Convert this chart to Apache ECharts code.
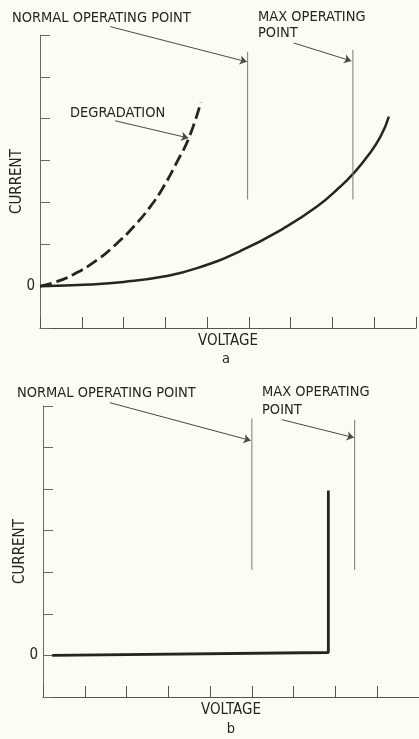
<!DOCTYPE html>
<html>
<head>
<meta charset="utf-8">
<script src="https://cdn.jsdelivr.net/npm/echarts@6/dist/echarts.min.js"></script>
<style>
  html, body { margin: 0; padding: 0; background: #fcfcf3; }
  #chart { width: 419px; height: 739px; }
</style>
</head>
<body>
<div id="chart"></div>
<script>
// chart a : normal curve and degraded curve
var voltA = [0, 1.2, 2.0, 2.96, 3.76, 4.80, 5.83, 6.63, 7.19, 7.51, 7.83, 8.15, 8.35];
var currentA = [0, 0.04, 0.10, 0.23, 0.43, 0.84, 1.38, 1.90, 2.38, 2.70, 3.09, 3.57, 4.05];
var voltDeg = [0, 0.32, 0.80, 1.36, 1.84, 2.24, 2.64, 2.96, 3.28, 3.56, 3.85];
var currentDeg = [0, 0.08, 0.28, 0.62, 1.02, 1.42, 1.90, 2.38, 2.97, 3.53, 4.39];

// chart b : flat then vertical
var voltB = [0.22, 6.83, 6.83];
var currentB = [0, 0.07, 3.97];

// operating point markers [voltage, from current, to current]
var normalA = [4.97, 2.07, 5.6];
var maxA = [7.49, 2.07, 5.65];
var normalB = [5.0, 2.06, 5.7];
var maxB = [7.46, 2.06, 5.67];

// arrows [[from],[to]]
var arrowsA = [
    [[1.68, 6.2], [4.95, 5.36]],
    [[6.07, 5.81], [7.45, 5.38]],
    [[1.80, 3.95], [3.55, 3.54]]
];
var arrowsB = [
    [[1.60, 6.08], [4.97, 5.17]],
    [[5.72, 5.67], [7.44, 5.24]]
];

var INK = '#26261f';
var THIN = '#7a7a6c';
var FONT = '"DejaVu Sans Condensed", "Liberation Sans Narrow", sans-serif';

function pairs(xs, ys) {
    return xs.map(function (x, i) { return [x, ys[i]]; });
}

function xAx(idx) {
    return {
        gridIndex: idx, type: 'value', min: 0, max: 9, interval: 1,
        name: 'VOLTAGE', nameLocation: 'middle', nameGap: 6, nameMoveOverlap: false,
        nameTextStyle: { color: INK, fontFamily: FONT, fontSize: 15, verticalAlign: 'top' },
        axisLine: { onZero: false, lineStyle: { color: '#55554a', width: 1.2 } },
        axisTick: { inside: true, length: 11, lineStyle: { color: '#55554a' } },
        axisLabel: { show: false },
        splitLine: { show: false }
    };
}

function yAx(idx) {
    return {
        gridIndex: idx, type: 'value', min: -1, max: 6, interval: 1,
        name: 'CURRENT', nameLocation: 'middle', nameGap: 15, nameRotate: 90, nameMoveOverlap: false,
        nameTextStyle: { color: INK, fontFamily: FONT, fontSize: 15 },
        axisLine: { show: true, lineStyle: { color: '#6a6a5e', width: 1 } },
        axisTick: { show: true, inside: true, length: 10, lineStyle: { color: '#6a6a5e' } },
        axisLabel: {
            margin: 5, color: INK, fontFamily: FONT, fontSize: 15,
            formatter: function (v) { return v === 0 ? '0' : ''; }
        },
        splitLine: { show: false }
    };
}

function marker(idx, m) {
    return {
        type: 'line', xAxisIndex: idx, yAxisIndex: idx, clip: false, silent: true,
        data: [[m[0], m[1]], [m[0], m[2]]], showSymbol: false,
        lineStyle: { color: THIN, width: 1 }
    };
}

function arrows(idx, list) {
    return {
        type: 'lines', coordinateSystem: 'cartesian2d', xAxisIndex: idx, yAxisIndex: idx,
        clip: false, silent: true, symbol: ['none', 'arrow'], symbolSize: 7,
        lineStyle: { color: '#4a4a40', width: 1, opacity: 1 },
        data: list.map(function (a) { return { coords: a }; })
    };
}

function label(text, x, y, align) {
    return {
        type: 'text', x: x, y: y, silent: true,
        style: { text: text, fill: INK, font: '14.5px ' + FONT, textAlign: align || 'left', textVerticalAlign: 'middle' }
    };
}

var chart = echarts.init(document.getElementById('chart'));

chart.setOption({
    backgroundColor: '#fcfcf3',
    animation: false,
    grid: [
        { left: 40, top: 35, width: 376, height: 293, outerBoundsMode: 'none' },
        { left: 43, top: 406, width: 376, height: 291, outerBoundsMode: 'none' }
    ],
    xAxis: [xAx(0), xAx(1)],
    yAxis: [yAx(0), yAx(1)],
    graphic: [
        label('NORMAL OPERATING POINT', 12, 18),
        label('MAX OPERATING', 258, 17),
        label('POINT', 258, 33),
        label('DEGRADATION', 70, 113),
        label('NORMAL OPERATING POINT', 17, 393),
        label('MAX OPERATING', 262, 392),
        label('POINT', 262, 410),
        label('a', 226, 359, 'center'),
        label('b', 231, 729, 'center')
    ],
    series: [
        {
            type: 'line', xAxisIndex: 0, yAxisIndex: 0, smooth: true, showSymbol: false,
            data: pairs(voltA, currentA), lineStyle: { color: INK, width: 2.5 }
        },
        {
            type: 'line', xAxisIndex: 0, yAxisIndex: 0, smooth: true, showSymbol: false,
            data: pairs(voltDeg, currentDeg), lineStyle: { color: INK, width: 2.8, type: [12, 5] }
        },
        marker(0, normalA),
        marker(0, maxA),
        arrows(0, arrowsA),
        {
            type: 'line', xAxisIndex: 1, yAxisIndex: 1, showSymbol: false,
            data: pairs(voltB, currentB), lineStyle: { color: INK, width: 2.8 }
        },
        marker(1, normalB),
        marker(1, maxB),
        arrows(1, arrowsB)
    ]
});
</script>
</body>
</html>
